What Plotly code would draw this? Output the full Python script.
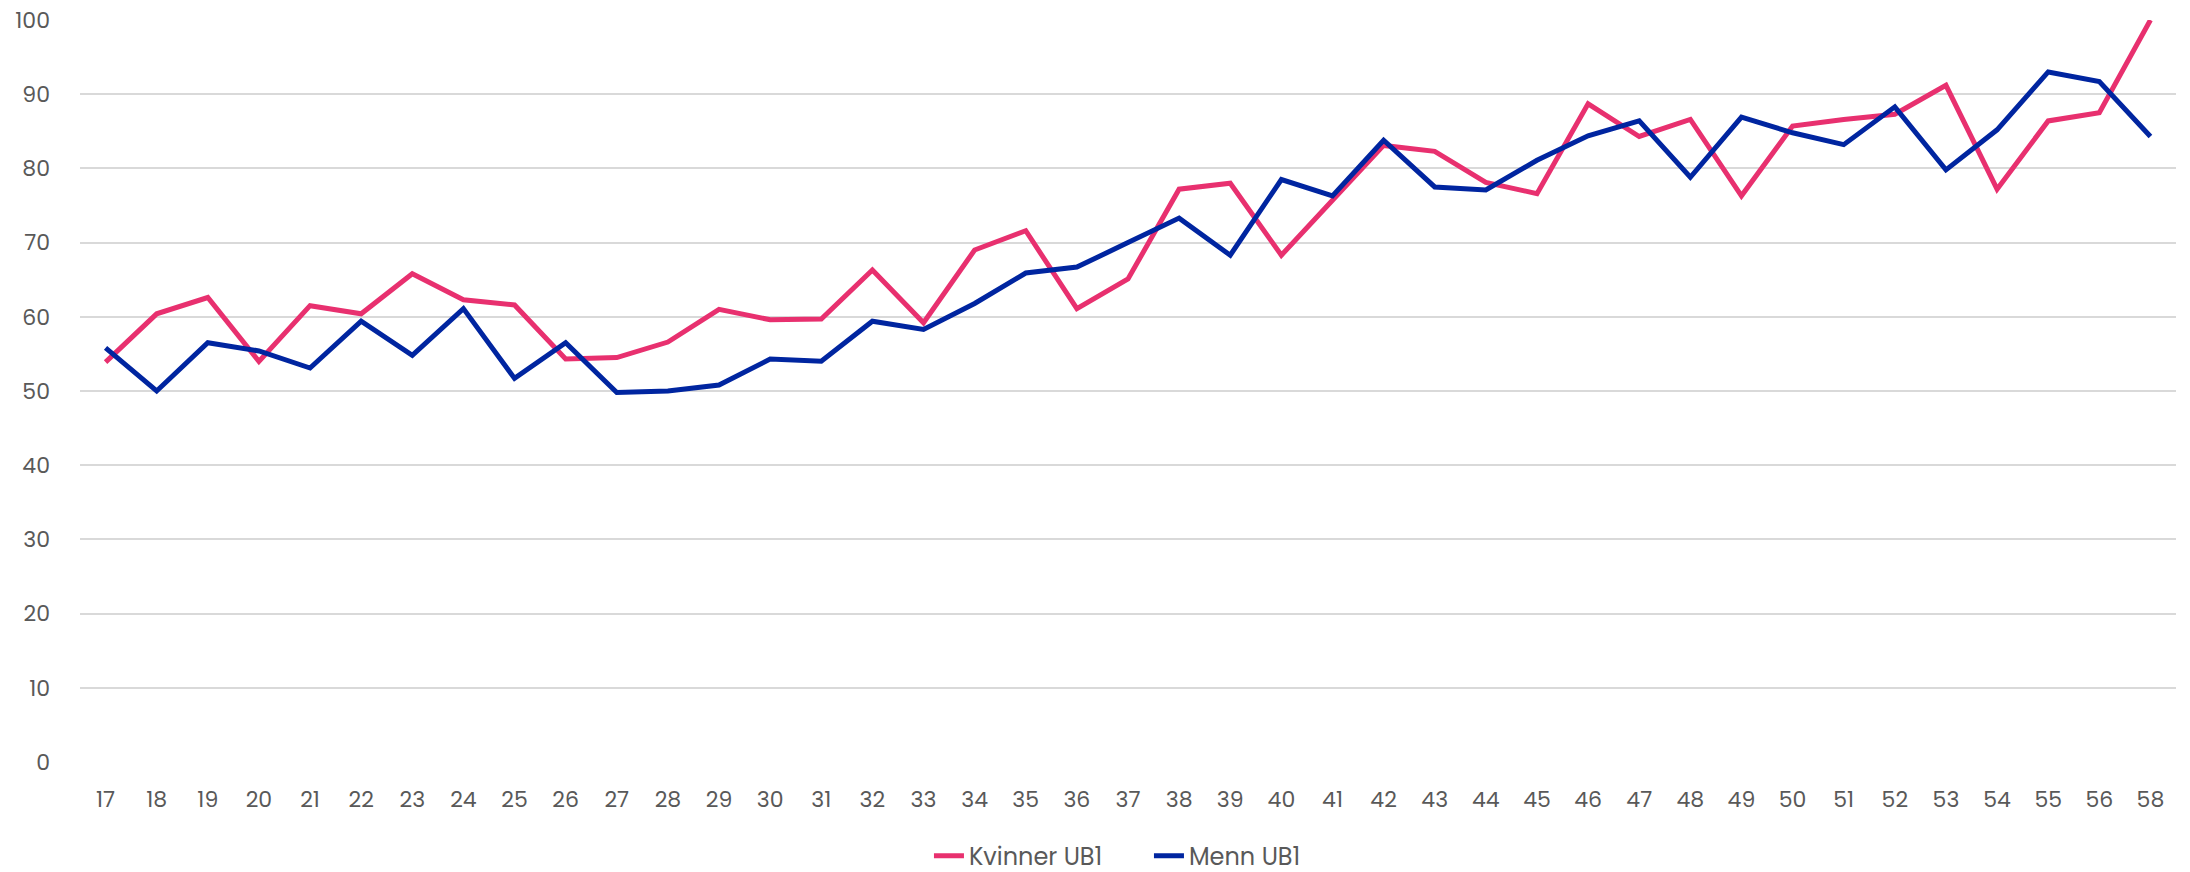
import plotly.graph_objects as go

categories = ["17", "18", "19", "20", "21", "22", "23", "24", "25", "26", "27", "28", "29",
              "30", "31", "32", "33", "34", "35", "36", "37", "38", "39", "40", "41", "42",
              "43", "44", "45", "46", "47", "48", "49", "50", "51", "52", "53", "54", "55",
              "56", "58"]

kvinner_ub1 = [53.9, 60.4, 62.6, 54.0, 61.5, 60.4, 65.8, 62.3, 61.6, 54.3, 54.5, 56.6, 61.0,
               59.6, 59.7, 66.3, 59.2, 69.0, 71.6, 61.1, 65.1, 77.2, 78.0, 68.3, 75.7, 83.1,
               82.3, 78.1, 76.6, 88.7, 84.3, 86.6, 76.3, 85.7, 86.6, 87.3, 91.2, 77.2, 86.4,
               87.5, 100.0]

menn_ub1 = [55.8, 50.0, 56.5, 55.4, 53.1, 59.4, 54.8, 61.1, 51.7, 56.5, 49.8, 50.0, 50.8,
            54.3, 54.0, 59.4, 58.3, 61.8, 65.9, 66.7, 70.0, 73.3, 68.3, 78.5, 76.3, 83.8,
            77.5, 77.1, 81.1, 84.4, 86.4, 78.8, 86.9, 84.8, 83.2, 88.3, 79.8, 85.2, 93.0,
            91.7, 84.3]

y_ticks = [0, 10, 20, 30, 40, 50, 60, 70, 80, 90, 100]

FONT = "Poppins, Lato, 'Open Sans', sans-serif"
GRAY = "#595959"

fig = go.Figure()
fig.add_trace(go.Scatter(x=categories, y=kvinner_ub1, mode="lines", name="Kvinner UB1",
                         line=dict(color="#E8306F", width=5)))
fig.add_trace(go.Scatter(x=categories, y=menn_ub1, mode="lines", name="Menn UB1",
                         line=dict(color="#0025A0", width=5)))

fig.update_layout(
    width=2190, height=872,
    margin=dict(l=80, r=14, t=19.5, b=109.7, autoexpand=False),
    paper_bgcolor="white", plot_bgcolor="white",
    font=dict(family=FONT, size=22, color=GRAY),
    xaxis=dict(type="category", range=[-0.5, len(categories) - 0.5], showgrid=False,
               showline=False, zeroline=False, ticks="",
               tickfont=dict(size=22, color=GRAY), ticklabelstandoff=22),
    yaxis=dict(range=[0, 100], tickvals=y_ticks, showgrid=True, gridcolor="#D9D9D9",
               gridwidth=2, zeroline=False, showline=False, ticks="",
               tickfont=dict(size=22, color=GRAY), ticklabelstandoff=29,
               ticklabeloverflow="allow"),
    legend=dict(orientation="h", x=0.51, xanchor="center", y=-0.127, yanchor="middle",
                font=dict(size=24, color=GRAY), itemwidth=30, tracegroupgap=0,
                entrywidth=175, entrywidthmode="pixels",
                bgcolor="rgba(0,0,0,0)"),
    showlegend=True,
)

fig.write_html("out.html", config={"displayModeBar": False},
               post_script="document.body.style.margin='0';")
